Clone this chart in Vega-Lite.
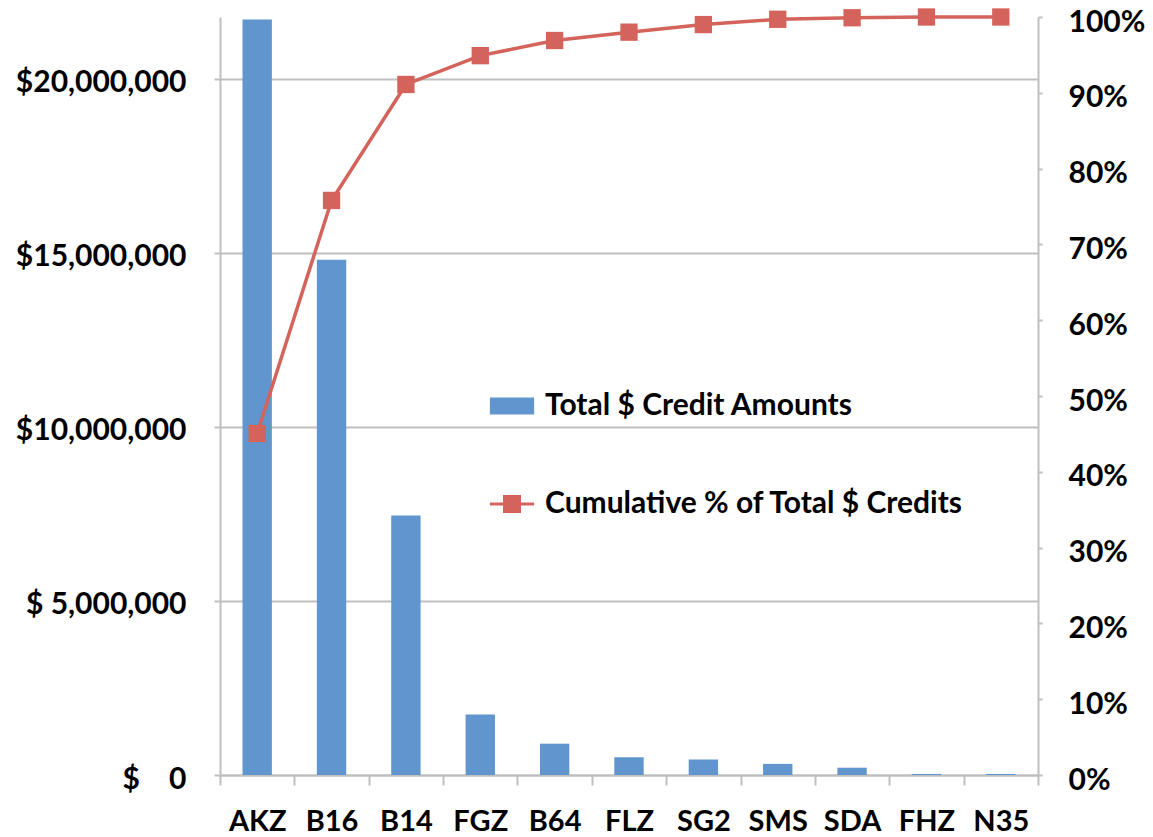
{
  "$schema": "https://vega.github.io/schema/vega-lite/v6.json",
  "width": 818,
  "height": 758,
  "autosize": "none",
  "padding": {"left": 220, "top": 17, "right": 115, "bottom": 62},
  "background": "white",
  "config": {
    "view": {"stroke": null},
    "font": "Lato",
    "axis": {
      "labelFont": "Lato",
      "labelFontWeight": "bold",
      "labelFontSize": 30,
      "labelColor": "black",
      "domainColor": "#BFBFBF",
      "domainWidth": 2,
      "tickColor": "#BFBFBF",
      "tickWidth": 2,
      "gridColor": "#BFBFBF",
      "gridWidth": 2,
      "title": null
    }
  },
  "data": {
    "values": [
      {"code": "AKZ", "amount": 21700000, "cum": 0.4505},
      {"code": "B16", "amount": 14800000, "cum": 0.758},
      {"code": "B14", "amount": 7450000, "cum": 0.911},
      {"code": "FGZ", "amount": 1740000, "cum": 0.949},
      {"code": "B64", "amount": 900000, "cum": 0.969},
      {"code": "FLZ", "amount": 510000, "cum": 0.98},
      {"code": "SG2", "amount": 445000, "cum": 0.99},
      {"code": "SMS", "amount": 320000, "cum": 0.997},
      {"code": "SDA", "amount": 210000, "cum": 0.999},
      {"code": "FHZ", "amount": 30000, "cum": 1.0},
      {"code": "N35", "amount": 30000, "cum": 1.0}
    ]
  },
  "layer": [
    {
      "mark": {"type": "bar", "width": {"band": 0.395}},
      "encoding": {
        "x": {
          "field": "code", "type": "nominal", "sort": null,
          "scale": {"paddingInner": 0, "paddingOuter": 0},
          "axis": {"labelAngle": 0, "tickBand": "extent", "tickSize": 10, "labelBaseline": "alphabetic", "labelPadding": 45, "labelFontSize": 29, "grid": false}
        },
        "y": {
          "field": "amount", "type": "quantitative",
          "scale": {"domain": [0, 21770000], "nice": false},
          "axis": {
            "orient": "left",
            "values": [0, 5000000, 10000000, 15000000, 20000000],
            "labelExpr": "datum.value == 0 ? '$\u00a0\u00a0\u00a0\u00a00' : (datum.value < 10000000 ? '$\u00a0' + format(datum.value, ',') : '$' + format(datum.value, ','))",
            "labelPadding": 28,
            "labelOffset": 4,
            "tickSize": 6,
            "grid": true
          }
        },
        "color": {
          "datum": "Total $ Credit Amounts",
          "scale": {"domain": ["Total $ Credit Amounts", "Cumulative % of Total $ Credits"], "range": ["#6096CD", "#D3635B"]},
          "legend": {
            "orient": "none",
            "legendX": 275,
            "legendY": 372,
            "title": null,
            "direction": "vertical",
            "padding": 0,
            "symbolSize": 1156,
            "labelOffset": 16,
            "rowPadding": 66,
            "labelFont": "Lato",
            "labelFontSize": 30,
            "labelFontWeight": "bold",
            "labelColor": "black",
            "labelLimit": 700,
            "encode": {
              "symbols": {
                "update": {
                  "shape": {"signal": "datum.value == 'Total $ Credit Amounts' ? 'M-1.3,-0.5H1.3V0.5H-1.3Z' : 'M-1.3,-0.09H-0.53V-0.53H0.53V-0.09H1.3V0.09H0.53V0.53H-0.53V0.09H-1.3Z'"},
                  "fill": {"signal": "datum.value == 'Total $ Credit Amounts' ? '#6096CD' : '#D3635B'"},
                  "stroke": {"value": "transparent"},
                  "strokeWidth": {"value": 0},
                  "opacity": {"value": 1},
                  "fillOpacity": {"value": 1}
                }
              }
            }
          }
        }
      }
    },
    {
      "encoding": {
        "x": {"field": "code", "type": "nominal", "sort": null},
        "y": {
          "field": "cum", "type": "quantitative",
          "scale": {"domain": [0, 1], "nice": false},
          "axis": {
            "orient": "right",
            "values": [0, 0.1, 0.2, 0.3, 0.4, 0.5, 0.6, 0.7, 0.8, 0.9, 1.0],
            "format": ".0%",
            "labelPadding": 26,
            "labelOffset": 5,
            "tickSize": 4,
            "grid": false
          }
        },
        "color": {"datum": "Cumulative % of Total $ Credits"}
      },
      "layer": [
        {"mark": {"type": "line", "strokeWidth": 3.5}},
        {"mark": {"type": "point", "shape": "square", "filled": true, "size": 300, "opacity": 1}}
      ]
    }
  ],
  "resolve": {"scale": {"y": "independent"}}
}
